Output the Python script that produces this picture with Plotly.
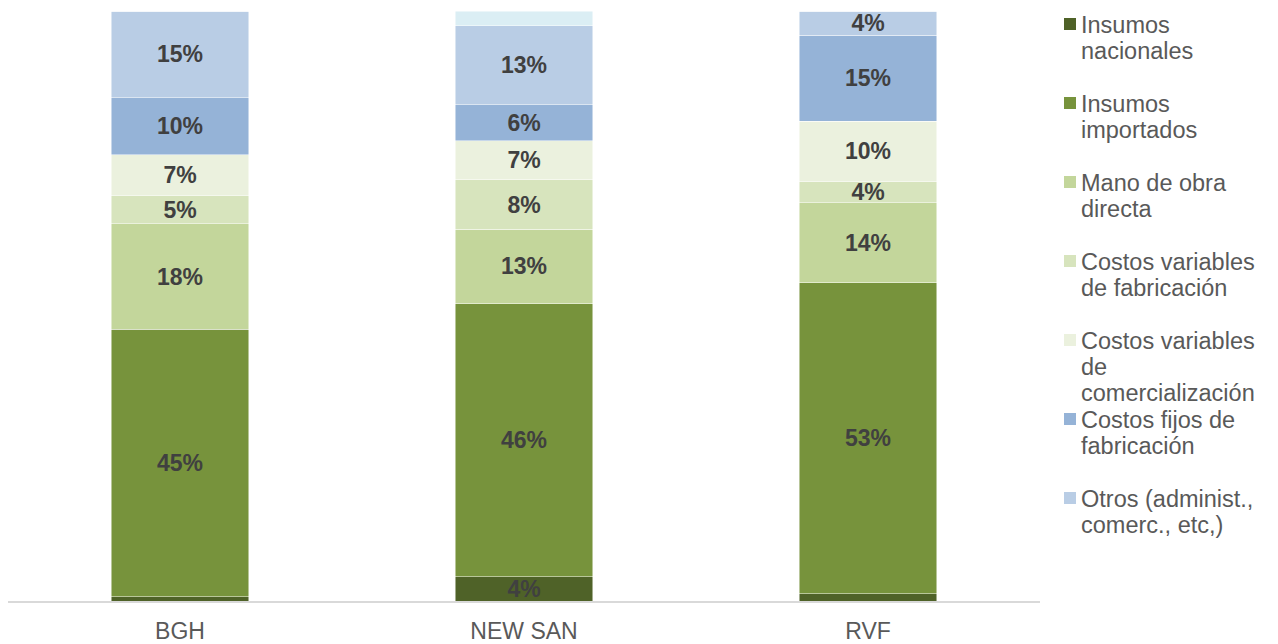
import plotly.graph_objects as go

categories = ["BGH", "NEW SAN", "RVF"]

series_names = [
    "Insumos nacionales",
    "Insumos importados",
    "Mano de obra directa",
    "Costos variables de fabricación",
    "Costos variables de comercialización",
    "Costos fijos de fabricación",
    "Otros (administ., comerc., etc,)",
    "Otros",
]
legend_lines = [
    ["Insumos", "nacionales"],
    ["Insumos", "importados"],
    ["Mano de obra", "directa"],
    ["Costos variables", "de fabricación"],
    ["Costos variables", "de", "comercialización"],
    ["Costos fijos de", "fabricación"],
    ["Otros (administ.,", "comerc., etc,)"],
]

insumos_nacionales = [0.7, 4.1, 1.2]
insumos_importados = [45.4, 46.3, 52.7]
mano_de_obra = [17.8, 12.6, 13.6]
cv_fabricacion = [4.9, 8.4, 3.6]
cv_comercializacion = [6.8, 6.6, 10.2]
cf_fabricacion = [9.7, 6.1, 14.6]
otros_admin = [14.7, 13.4, 4.1]
otros_extra = [0.0, 2.5, 0.0]

series_values = [
    insumos_nacionales, insumos_importados, mano_de_obra, cv_fabricacion,
    cv_comercializacion, cf_fabricacion, otros_admin, otros_extra,
]
colors = ["#4F6228", "#77933C", "#C3D69B", "#D7E4BD", "#EBF1DE",
          "#95B3D7", "#B9CDE5", "#DBEEF4"]
labeled = [True, True, True, True, True, True, True, False]

FONT = "Arial, Liberation Sans, sans-serif"

fig = go.Figure()
for name, vals, col, lab in zip(series_names, series_values, colors, labeled):
    text = [f"{v:.0f}%" if (lab and v >= 3) else "" for v in vals]
    fig.add_trace(go.Bar(
        x=categories, y=vals, name=name,
        marker=dict(color=col, line=dict(color="rgba(255,255,255,0.6)", width=0.8)),
        text=text, textposition="inside", insidetextanchor="middle",
        textangle=0, constraintext="none",
        textfont=dict(family=FONT, size=23, color="#404040", weight="bold"),
        showlegend=False, hoverinfo="skip",
    ))

# page is rendered with an 8px body margin
OFF = 8
L, R, T, B = 0, 246, 3, 51
W, H = 1278, 644
pw = W - L - R
ph = H - T - B

def px_x(p):
    return (p - OFF - L) / pw

def px_y(p):
    return (H - B - (p - OFF)) / ph

for i, lines in enumerate(legend_lines):
    cy = 24 + 79 * i
    fig.add_shape(type="rect", xref="paper", yref="paper",
                  x0=px_x(1064), x1=px_x(1076), y0=px_y(cy + 6), y1=px_y(cy - 6),
                  fillcolor=colors[i], line=dict(width=0))
    for j, line in enumerate(lines):
        fig.add_annotation(xref="paper", yref="paper", x=px_x(1079), y=px_y(cy + 1 + 26 * j),
                           xanchor="left", yanchor="middle", align="left", showarrow=False,
                           text=line, font=dict(family=FONT, size=23.5, color="#595959"))

fig.update_layout(
    barmode="stack", bargap=0.6,
    width=W, height=H,
    margin=dict(l=L, r=R, t=T, b=B, pad=0),
    paper_bgcolor="white", plot_bgcolor="white",
    uniformtext=dict(minsize=23, mode="show"),
    xaxis=dict(showline=True, linecolor="#D9D9D9", linewidth=2, ticks="",
               ticklabelstandoff=8,
               tickfont=dict(family=FONT, size=23, color="#595959"),
               showgrid=False, zeroline=False),
    yaxis=dict(range=[0, 100], visible=False, showgrid=False, zeroline=False),
)

fig.write_html("out.html")
